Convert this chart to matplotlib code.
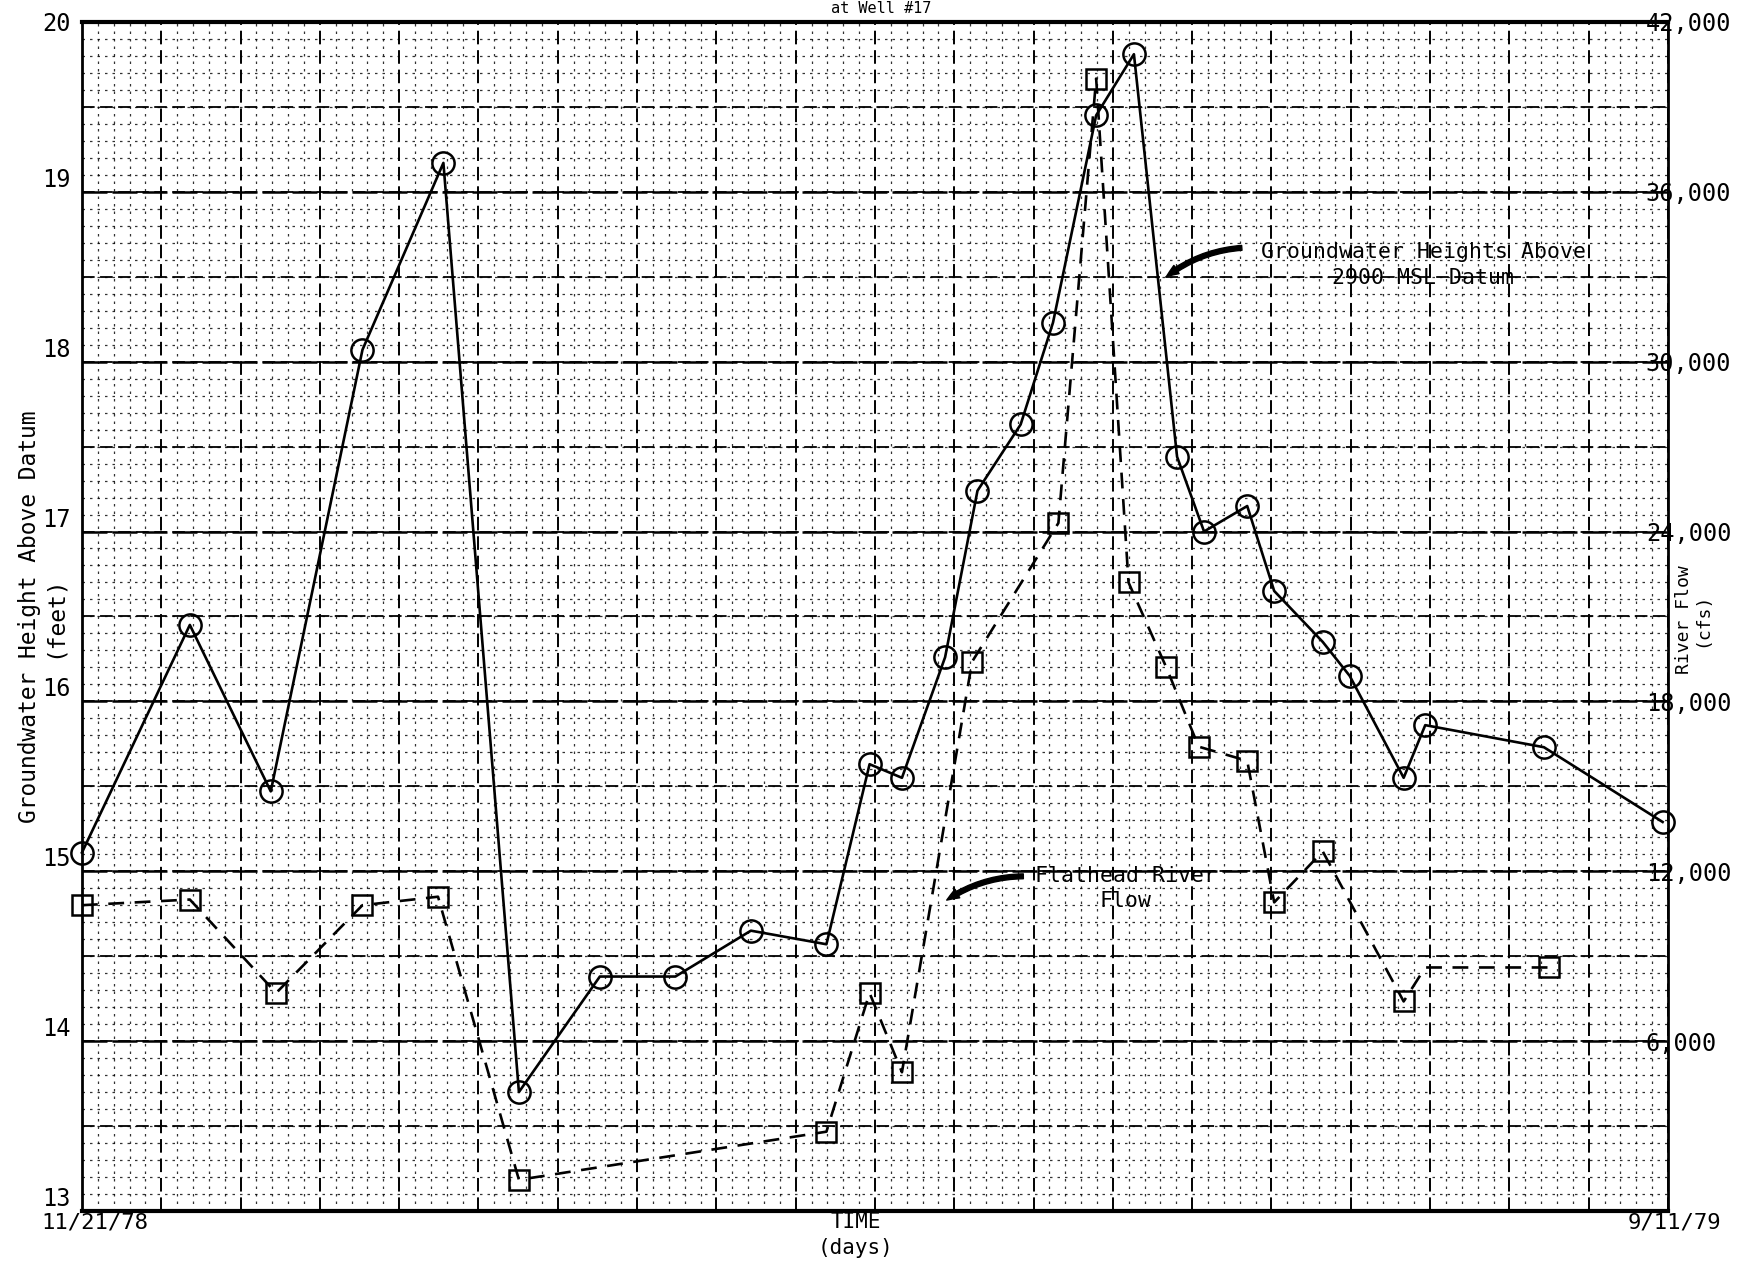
import matplotlib
matplotlib.use('Agg')
import matplotlib.pyplot as plt
from matplotlib.ticker import MultipleLocator, FixedLocator, FuncFormatter

plt.rcParams['font.family'] = ['DejaVu Sans Mono', 'DejaVu Sans']

# ---- data (days since 11/21/78) ----
gw_days = [0, 20, 35, 52, 67, 81, 96, 110, 124, 138, 146, 152, 160, 166, 174,
           180, 188, 195, 203, 208, 216, 221, 230, 235, 245, 249, 271, 293]
gw_height = [15.11, 16.45, 15.47, 18.07, 19.17, 13.70, 14.38, 14.38, 14.65, 14.57,
             15.63, 15.55, 16.26, 17.24, 17.63, 18.23, 19.45, 19.81, 17.44, 17.00,
             17.15, 16.65, 16.35, 16.15, 15.55, 15.86, 15.73, 15.29]

flow_days = [0, 20, 36, 52, 66, 81, 138, 146, 152, 165, 181, 188, 194, 201, 207,
             216, 221, 230, 245, 249, 272]
flow_cfs = [10800, 11000, 7700, 10800, 11100, 1100, 2800, 7700, 4900, 19400, 24300,
            40000, 22200, 19200, 16400, 15900, 10900, 12700, 7400, 8600, 8600]
flow_has_marker = [True] * 19 + [False, True]

left_ticks = [13, 14, 15, 16, 17, 18, 19, 20]
right_ticks = [6000, 12000, 18000, 24000, 30000, 36000, 42000]
x_start_label = "11/21/78"
x_end_label = "9/11/79"
total_days = 294

# ---- figure ----
fig = plt.figure(figsize=(17.51, 12.68), dpi=100)
ax = fig.add_axes([0.0468, 0.045, 0.9058, 0.9377])
ax.set_xlim(0, total_days)
ax.set_ylim(13, 20)

# graph-paper grid
ax.xaxis.set_major_locator(MultipleLocator(total_days / 20))
ax.xaxis.set_minor_locator(MultipleLocator(total_days / 100))
ax.yaxis.set_major_locator(FixedLocator(left_ticks))
ax.yaxis.set_minor_locator(MultipleLocator(0.1))
ax.grid(which='major', axis='x', color='black', lw=1.4, ls=(0, (7, 3)), zorder=0)
ax.grid(which='minor', color='black', lw=0.9, ls=(0, (2, 4)), alpha=0.8, zorder=0)
for k in range(14):
    ax.axhline(13 + 0.5 * k, color='black', lw=1.3, ls=(0, (7, 3)), zorder=0.4)
for yv in left_ticks:
    ax.axhline(yv, color='black', lw=1.8, ls=(0, (10, 2)), zorder=0.5)
ax.tick_params(which='both', length=0)
ax.set_xticklabels([])

# left tick labels
ax.set_yticklabels([str(t) for t in left_ticks])
ax.tick_params(axis='y', labelsize=17, pad=8)
ylabs = ax.get_yticklabels()
for lab in ylabs[:-1]:
    lab.set_verticalalignment('bottom')
ylabs[-1].set_verticalalignment('center_baseline')

for side in ['left', 'right']:
    ax.spines[side].set_linewidth(2.0)
for side in ['top', 'bottom']:
    ax.spines[side].set_linewidth(3.0)

# groundwater series
ax.plot(gw_days, gw_height, color='black', lw=1.9, marker='o', ms=16,
        mfc='none', mec='black', mew=1.8, zorder=3, clip_on=False)

# river flow series on right axis
ax2 = ax.twinx()
ax2.set_ylim(0, 42000)
ax2.yaxis.set_major_locator(FixedLocator(right_ticks))
ax2.yaxis.set_major_formatter(FuncFormatter(lambda v, p: f"{int(v):,}"))
ax2.tick_params(axis='y', length=0, labelsize=17, pad=-16)
for s in ax2.spines.values():
    s.set_visible(False)
mark_idx = [i for i, m in enumerate(flow_has_marker) if m]
ax2.plot(flow_days, flow_cfs, color='black', lw=1.9, ls=(0, (6, 4)), marker='s',
         ms=14, mfc='none', mec='black', mew=1.8, markevery=mark_idx,
         zorder=3, clip_on=False)

# axis titles
ax.text(-0.033, 0.5, "Groundwater Height Above Datum", transform=ax.transAxes,
        rotation=90, ha='center', va='center', fontsize=16.5)
ax.text(-0.0175, 0.5, "(feet)", transform=ax.transAxes,
        rotation=90, ha='center', va='center', fontsize=16.5)
ax.text(1.0158, 0.497, "River Flow\n(cfs)", transform=ax.transAxes,
        rotation=90, ha='center', va='center', fontsize=13, linespacing=1.0)
ax.text(0.008, -0.001, x_start_label, transform=ax.transAxes, ha='center', va='top',
        fontsize=16)
ax.text(1.004, -0.001, x_end_label, transform=ax.transAxes, ha='center', va='top',
        fontsize=16)
ax.text(0.488, -0.001, "TIME\n(days)", transform=ax.transAxes, ha='center', va='top',
        fontsize=15, linespacing=1.35)
fig.text(0.503, 0.9995, "at Well #17", ha='center', va='top', fontsize=11)

# annotations
ax.text(218.5, 18.57, "Groundwater Heights Above\n2900 MSL Datum", ha='left',
        va='center', fontsize=15.5, multialignment='center', linespacing=1.35,
        zorder=4)
ax.annotate("", xy=(201, 18.50), xytext=(215, 18.67),
            arrowprops=dict(arrowstyle='simple,head_length=0.9,head_width=0.7,tail_width=0.35',
                            color='black', connectionstyle='arc3,rad=0.15',
                            shrinkA=0, shrinkB=0), zorder=4)
ax.text(193.5, 14.90, "Flathead River\nFlow", ha='center', va='center', fontsize=15.5,
        multialignment='center', linespacing=1.3, zorder=4)
ax.annotate("", xy=(160.3, 14.83), xytext=(174.5, 14.97),
            arrowprops=dict(arrowstyle='simple,head_length=0.9,head_width=0.7,tail_width=0.35',
                            color='black', connectionstyle='arc3,rad=0.15',
                            shrinkA=0, shrinkB=0), zorder=4)

fig.savefig("out.png", dpi=100)
